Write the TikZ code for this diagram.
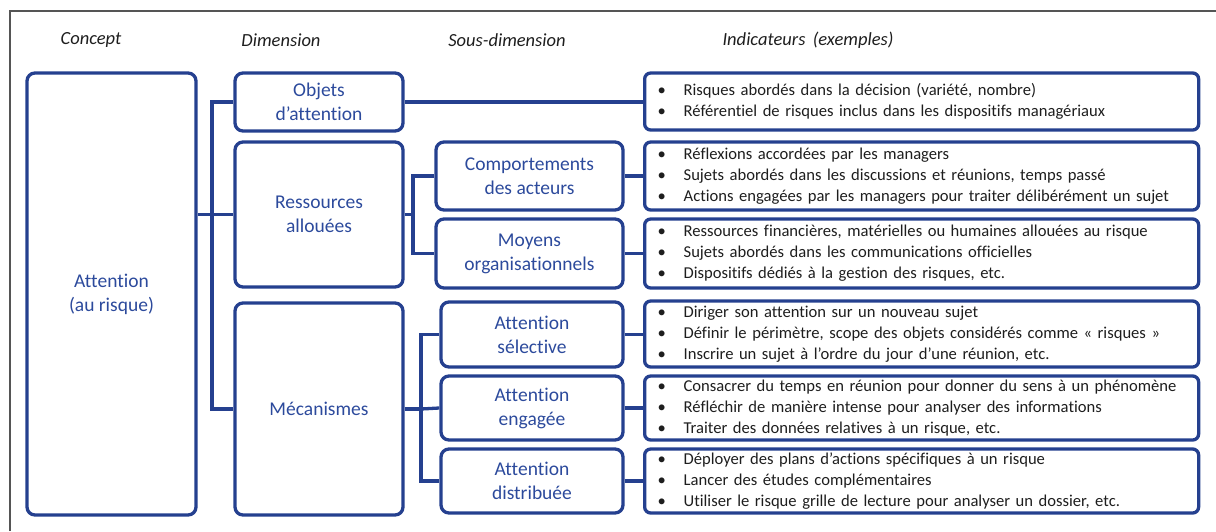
\documentclass[tikz,border=0pt]{standalone}
\usepackage{fontspec}
\setmainfont[Ligatures=NoCommon]{Carlito}
\usepackage{xcolor}
\definecolor{boxblue}{HTML}{25408F}
\definecolor{labelblue}{HTML}{2C4A9C}
\definecolor{inktext}{HTML}{1E1E1E}
\definecolor{framegray}{HTML}{555555}
\newcommand{\bul}{\makebox[26pt][l]{\textbullet}}

\begin{document}
\begin{tikzpicture}[x=1pt,y=-1pt,
        box/.style={draw=boxblue, line width=3.3pt, rounded corners=8pt, text=labelblue, align=center, inner sep=0pt, font=\fontsize{19.5}{24}\selectfont},
        indbox/.style={draw=boxblue, line width=3.3pt, rounded corners=6pt, anchor=west, text width=528pt, inner xsep=13pt, inner ysep=0pt, align=left, text=inktext, font=\fontsize{16.6}{21}\selectfont},
        link/.style={draw=boxblue, line width=3.3pt},
        head/.style={text=inktext, font=\fontsize{18.5}{22}\selectfont\itshape}]
        \useasboundingbox (0,0) rectangle (1216,531);
        % outer frame (only top and left visible)
        \draw [framegray, line width=1.5pt] (10,531)--(10,11)--(1216,11);

        % column titles
        \node [head] (hconcept) at (91,40) {Concept};
        \node [head] (hdim) at (281,40) {Dimension};
        \node [head] (hsous) at (507,40) {Sous-dimension};
        \node [head] (hind) at (808,40) {Indicateurs\hspace{0.4em}(exemples)};

        % concept and dimensions
        \node [box, minimum width=169pt, minimum height=442pt] (concept) at (111.5,294) {Attention\\(au risque)};
        \node [box, minimum width=168pt, minimum height=58pt] (obj) at (319,102) {Objets\\d'attention};
        \node [box, minimum width=168pt, minimum height=145pt] (ress) at (319,214.5) {Ressources\\allouées};
        \node [box, minimum width=168pt, minimum height=212pt] (meca) at (319,409) {Mécanismes};

        % sous-dimensions
        \node [box, minimum width=187pt, minimum height=68pt] (comp) at (529.5,176) {Comportements\\des acteurs};
        \node [box, minimum width=187pt, minimum height=69pt] (moy) at (529.5,253.5) {Moyens\\organisationnels};
        \node [box, minimum width=182pt, minimum height=65pt] (sel) at (532,334.5) {Attention\\sélective};
        \node [box, minimum width=182pt, minimum height=64pt] (eng) at (532,408) {Attention\\engagée};
        \node [box, minimum width=182pt, minimum height=64pt] (dist) at (532,481) {Attention\\distribuée};

        % indicateurs
        \node [indbox, minimum height=57pt] (ind1) at (643,101.5) {\bul Risques abordés dans la décision (variété, nombre)\\
            \bul Référentiel de risques inclus dans les dispositifs managériaux};
        \node [indbox, minimum height=68pt] (ind2) at (643,176) {\bul Réflexions accordées par les managers\\
            \bul Sujets abordés dans les discussions et réunions, temps passé\\
            \bul Actions engagées par les managers pour traiter délibérément un sujet};
        \node [indbox, minimum height=69pt] (ind3) at (643,253.5) {\bul Ressources financières, matérielles ou humaines allouées au risque\\
            \bul Sujets abordés dans les communications officielles\\
            \bul Dispositifs dédiés à la gestion des risques, etc.};
        \node [indbox, minimum height=66pt] (ind4) at (643,334) {\bul Diriger son attention sur un nouveau sujet\\
            \bul Définir le périmètre, scope des objets considérés comme « risques »\\
            \bul Inscrire un sujet à l'ordre du jour d'une réunion, etc.};
        \node [indbox, minimum height=64pt] (ind5) at (643,408) {\bul Consacrer du temps en réunion pour donner du sens à un phénomène\\
            \bul Réfléchir de manière intense pour analyser des informations\\
            \bul Traiter des données relatives à un risque, etc.};
        \node [indbox, minimum height=64pt] (ind6) at (643,481) {\bul Déployer des plans d'actions spécifiques à un risque\\
            \bul Lancer des études complémentaires\\
            \bul Utiliser le risque grille de lecture pour analyser un dossier, etc.};

        % tree lines
        \coordinate (trunkA) at (212,214.5);
        \coordinate (trunkB) at (413,214.5);
        \coordinate (trunkC) at (421,409);
        \draw [link] (concept.east |- trunkA)--(ress.west);
        \draw [link] (obj.west) -| (trunkA) |- (meca.west);
        \draw [link] (ress.east)--(trunkB);
        \draw [link] (comp.west) -| (trunkB) |- (moy.west);
        \draw [link] (meca.east)--(trunkC);
        \draw [link] (sel.west) -| (trunkC) |- (dist.west);
        \draw [link] (trunkC)--(eng.west);

        \draw [link] (obj.east)--(obj.east -| ind1.west);
        \draw [link] (comp.east)--(comp.east -| ind2.west);
        \draw [link] (moy.east)--(moy.east -| ind3.west);
        \draw [link] (sel.east)--(sel.east -| ind4.west);
        \draw [link] (eng.east)--(eng.east -| ind5.west);
        \draw [link] (dist.east)--(dist.east -| ind6.west);
    \end{tikzpicture}
\end{document}
